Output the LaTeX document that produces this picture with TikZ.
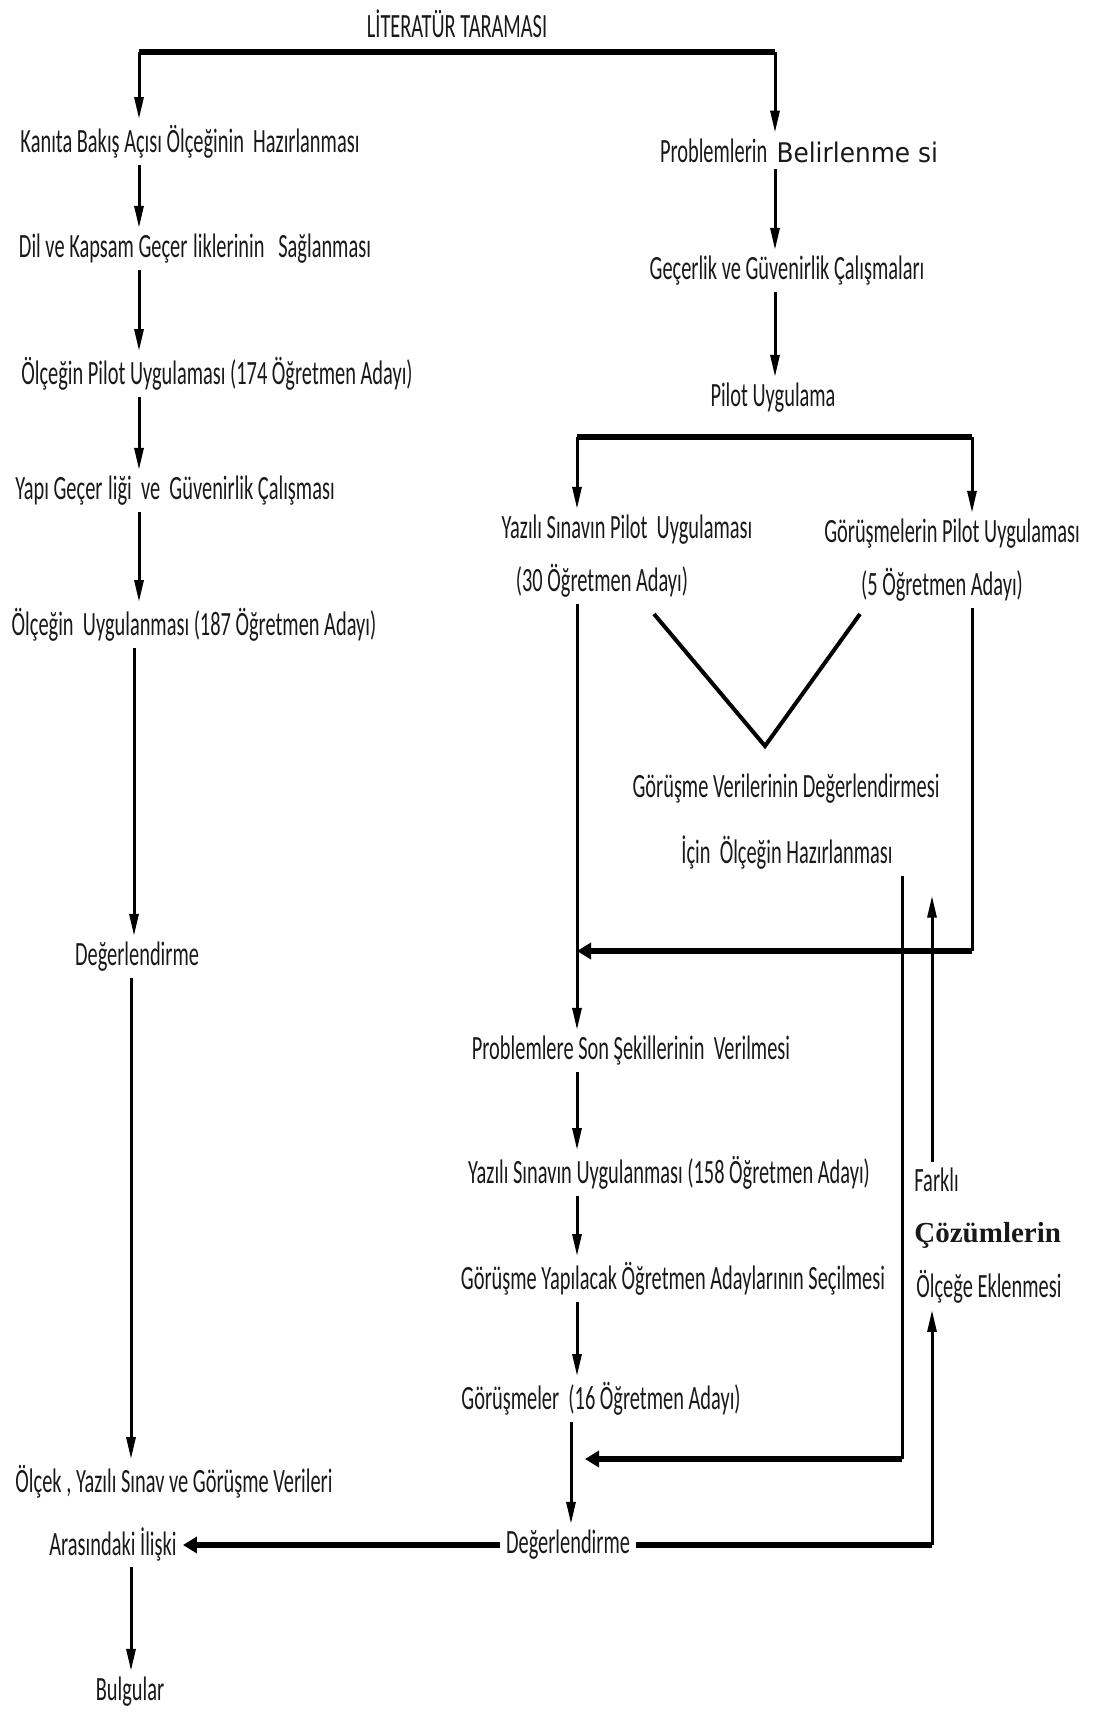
\documentclass[tikz,border=0pt]{standalone}
\usepackage{fontspec}
\setmainfont{Carlito}[FakeStretch=0.6]
\newfontfamily\genisyazi{DejaVu Sans}[FakeStretch=0.92]
\newfontfamily\serifyazi{Liberation Serif}
\usepackage{tikz}
\usetikzlibrary{arrows.meta}
\usetikzlibrary{positioning}
\tikzstyle{adim}=[inner sep=3pt,text=black!90,font=\fontsize{17}{20}\selectfont]
\tikzstyle{dik}=[line width=1.5pt]
\tikzstyle{yatay}=[line width=2.7pt]
\tikzstyle{okdik}=[dik,-{Triangle[length=11pt,width=4.5pt]}]
\tikzstyle{okyatay}=[yatay,-{Triangle[length=7pt,width=8pt]}]

\begin{document}
\begin{tikzpicture}[x=0.5pt,y=-0.5pt]
\useasboundingbox (0,0) rectangle (1095,1713);
% sol kolon
\node [adim] (lit) at (457,24) {LİTERATÜR TARAMASI};
\node [adim] (kanita) at (190,142) {Kanıta Bakış Açısı Ölçeğinin~ Hazırlanması};
\node [adim] (dil) at (195,249) {Dil ve Kapsam Geçer\,liklerinin~~ Sağlanması};
\node [adim] (pilot174) at (217,374) {Ölçeğin Pilot Uygulaması (174 Öğretmen Adayı)};
\node [adim] (yapi) at (175,491) {Yapı Geçer\,liği~ ve~ Güvenirlik Çalışması};
\node [adim] (uyg187) at (194,625) {Ölçeğin~ Uygulanması (187 Öğretmen Adayı)};
\node [adim] (deg1) at (137,957) {Değerlendirme};
\node [adim] (olcek) at (174,1482) {Ölçek , Yazılı Sınav ve Görüşme Verileri};
\node [adim] (ara) at (113,1544) {Arasındaki İlişki};
\node [adim] (bulgu) at (130,1692) {Bulgular};
% sag kolon
\node [adim] (probl) at (799,151) {Problemlerin~ {\genisyazi\fontsize{13.5}{16}\selectfont Belirlenme si}};
\node [adim] (gecer) at (787,271) {Geçerlik ve Güvenirlik Çalışmaları};
\node [adim] (pilotu) at (773,398) {Pilot Uygulama};
\node [adim] (ysp1) at (627,530) {Yazılı Sınavın Pilot~ Uygulaması};
\node [adim] (ysp2) at (602,581) {(30 Öğretmen Adayı)};
\node [adim] (gpu1) at (952,534) {Görüşmelerin Pilot Uygulaması};
\node [adim] (gpu2) at (942,585) {(5 Öğretmen Adayı)};
\node [adim] (gvd) at (786,789) {Görüşme Verilerinin Değerlendirmesi};
\node [adim] (icin) at (787,853) {İçin~ Ölçeğin Hazırlanması};
\node [adim] (son) at (631,1051) {Problemlere Son Şekillerinin~ Verilmesi};
\node [adim] (ys158) at (669,1173) {Yazılı Sınavın Uygulanması (158 Öğretmen Adayı)};
\node [adim] (gyo) at (673,1279) {Görüşme Yapılacak Öğretmen Adaylarının Seçilmesi};
\node [adim] (gor16) at (601,1399) {Görüşmeler~ (16 Öğretmen Adayı)};
\node [adim] (deg2) at (568,1545) {Değerlendirme};
\node [adim,anchor=west] (farkli) at (908,1180) {Farklı};
\node [adim,anchor=west] (cozum) at (908,1235) {\serifyazi\bfseries\fontsize{14.5}{17}\selectfont Çözümlerin};
\node [adim,anchor=west] (olcege) at (910,1287) {Ölçeğe Eklenmesi};

\coordinate (litL) at (139,52);
\coordinate (litR) at (775,52);
\coordinate (lx) at (139,0);
\coordinate (lx2) at (134,0);
\coordinate (lx3) at (131,0);
\coordinate (pL) at (577,437);
\coordinate (pR) at (972,437);
\coordinate (donus) at (972,951);
\coordinate (vsol) at (654,614);
\coordinate (vtepe) at (765,746);
\coordinate (vsag) at (860,614);
\coordinate (geri) at (902,1459);
\coordinate (gx) at (571,0);
\coordinate (fx) at (932,0);

% literatur
\draw [yatay] (litL) -- (litR);
\draw [okdik] (litL) -- (kanita.north -| litL);
\draw [okdik] (litR) -- (probl.north -| litR);
% sol
\draw [okdik] (kanita.south -| lx) -- (dil.north -| lx);
\draw [okdik] (dil.south -| lx) -- (pilot174.north -| lx);
\draw [okdik] (pilot174.south -| lx) -- (yapi.north -| lx);
\draw [okdik] (yapi.south -| lx) -- (uyg187.north -| lx);
\draw [okdik] (uyg187.south -| lx2) -- (deg1.north -| lx2);
\draw [okdik] (deg1.south -| lx3) -- (olcek.north -| lx3);
\draw [okdik] (ara.south -| lx3) -- (bulgu.north -| lx3);
% sag
\draw [okdik] (probl.south -| litR) -- (gecer.north -| litR);
\draw [okdik] (gecer.south -| litR) -- (pilotu.north -| litR);
\draw [yatay] (pL) -- (pR);
\draw [okdik] (pL) -- (ysp1.north -| pL);
\draw [okdik] (pR) -- (gpu1.north -| pR);
\draw [okdik] (ysp2.south -| pL) -- (son.north -| pL);
\draw [dik] (gpu2.south -| pR) -- (donus);
\draw [okyatay] (donus) -- (donus -| pL);
\draw [dik,line width=2pt] (vsol) -- (vtepe) -- (vsag);
\draw [okdik] (son.south -| pL) -- (ys158.north -| pL);
\draw [okdik] (ys158.south -| pL) -- (gyo.north -| pL);
\draw [okdik] (gyo.south -| pL) -- (gor16.north -| pL);
\draw [okdik] (gor16.south -| gx) -- (deg2.north -| gx);
\draw [dik] (icin.south -| geri) -- (geri);
\draw [okyatay,shorten >=7pt] (geri) -- (geri -| gx);
% degerlendirme
\draw [okyatay] (deg2.west) -- (deg2.west -| ara.east);
\draw [yatay] (deg2.east) -- (deg2.east -| fx);
\draw [okdik] (deg2.east -| fx) -- (olcege.south -| fx);
\draw [okdik] (farkli.north -| fx) -- ++(0,-266);
\end{tikzpicture}
\end{document}
